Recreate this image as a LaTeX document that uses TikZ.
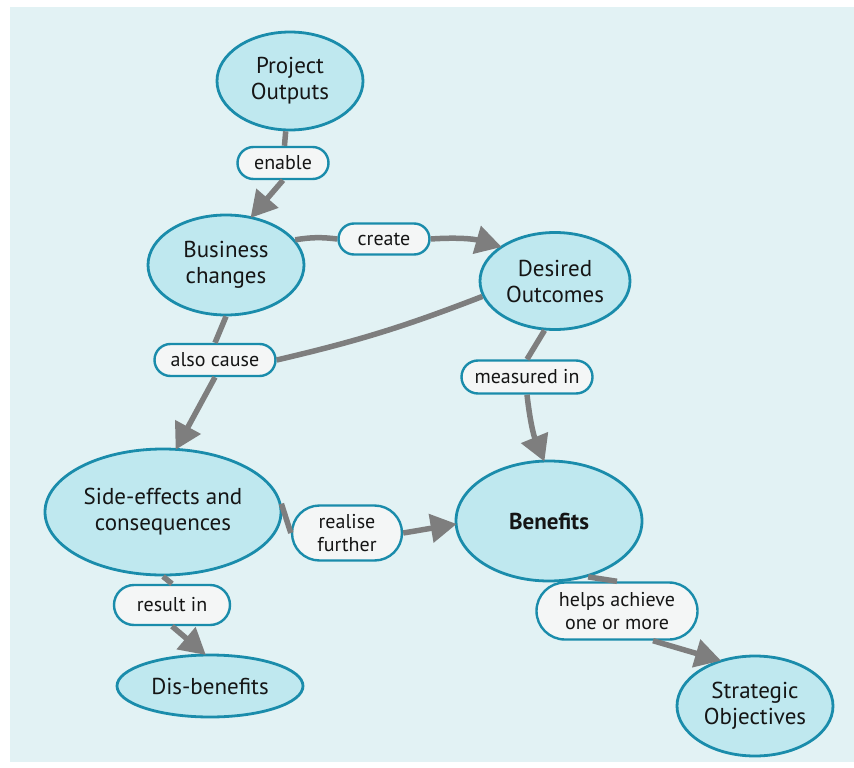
\documentclass[tikz,border=0pt]{standalone}
\usepackage{fontspec}
\setmainfont{PT Sans}
\usetikzlibrary{arrows.meta,shapes.geometric,shapes.misc}
\definecolor{bgcyan}{HTML}{E2F2F4}
\definecolor{ellfill}{HTML}{BFE8EF}
\definecolor{tealline}{HTML}{1A8CAB}
\definecolor{lblfill}{HTML}{F4F6F6}
\definecolor{arrgray}{HTML}{7E7E7E}
\definecolor{txt}{HTML}{151515}
\tikzset{
  concept/.style={ellipse, draw=tealline, line width=2.8pt, fill=ellfill, inner sep=0pt, align=center, text=txt, font=\fontsize{23}{26}\selectfont},
  linkbox/.style={rounded rectangle, draw=tealline, line width=2.4pt, fill=lblfill, align=center, text=txt, inner xsep=2pt, inner ysep=3pt, font=\fontsize{20}{23}\selectfont},
  conn/.style={draw=arrgray, line width=5.5pt},
  arr/.style={conn, -{Triangle[length=26pt,width=28pt]}, shorten >=-2pt}
}
\begin{document}
\begin{tikzpicture}[x=1pt,y=1pt]
\useasboundingbox (0,0) rectangle (854,-768);
\fill[white] (0,0) rectangle (854,-768);
\fill[bgcyan] (10,-7) rectangle (854,-762);

% nodes
\node[concept, minimum width=146pt, minimum height=98pt] (po) at (290,-81) {Project\\Outputs};
\node[linkbox, minimum width=95pt, minimum height=32pt] (enable) at (283,-163) {enable};
\node[concept, minimum width=156pt, minimum height=100pt] (bc) at (226,-265) {Business\\changes};
\node[linkbox, minimum width=95pt, minimum height=31pt] (create) at (384,-239) {create};
\node[concept, minimum width=150pt, minimum height=97pt] (do) at (555,-281) {Desired\\Outcomes};
\node[linkbox, minimum width=125pt, minimum height=32pt] (cause) at (215,-360) {also cause};
\node[linkbox, minimum width=135pt, minimum height=33pt] (measured) at (527,-377) {measured in};
\node[concept, minimum width=236pt, minimum height=126pt] (se) at (163,-512) {Side-effects and\\consequences};
\node[linkbox, minimum width=114pt, minimum height=55pt] (realise) at (347,-533) {realise\\further};
\node[concept, minimum width=186pt, minimum height=120pt, font=\fontsize{23}{26}\selectfont\bfseries] (ben) at (549,-521) {Benefits};
\node[linkbox, minimum width=120pt, minimum height=40pt] (result) at (172,-605) {result in};
\node[concept, minimum width=186pt, minimum height=62pt] (dis) at (210,-686) {Dis-benefits};
\node[linkbox, minimum width=165pt, minimum height=57pt] (helps) at (617,-611) {helps achieve\\one or more};
\node[concept, minimum width=156pt, minimum height=100pt] (so) at (755,-706) {Strategic\\Objectives};

% connectors
\draw[conn] (po) -- (enable);
\draw[arr] (enable.south) -- (bc.62);
\draw[conn] (bc.20) to[bend left=8] (create.west);
\draw[arr] (create.east) to[bend left=10] (do.148);
\draw[conn] (do.192) to[bend left=4] (cause.east);
\draw[conn] (bc.south) -- (cause.north);
\draw[arr] (cause.south) -- (se.78);
\draw[conn] (do.258) -- (measured.north);
\draw[arr] (measured.south) to[bend right=8] (ben.95);
\draw[conn] (se.4) -- (realise.west);
\draw[arr] (realise.east) -- (ben.182);
\draw[conn] (se.south) -- (result.north);
\draw[arr] (result.south) -- (dis.100);
\draw[conn] (ben.305) -- (helps.north);
\coordinate (hs) at ([xshift=36pt]helps.south);
\draw[arr] (hs) -- (so.128);
\end{tikzpicture}
\end{document}
